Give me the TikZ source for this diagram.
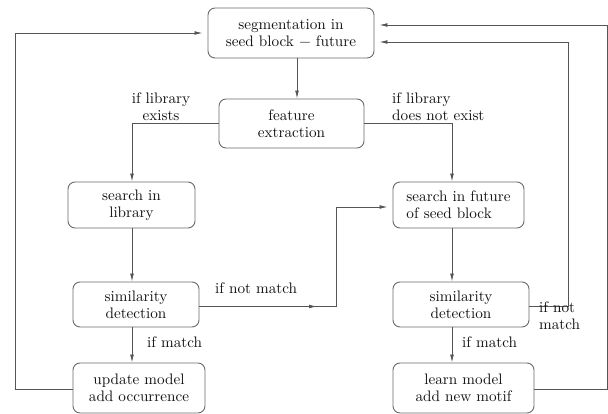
\documentclass[tikz,border=0pt]{standalone}
\usepackage{fontspec}
\newfontfamily\diagfamily{lmroman10-regular}[Extension=.otf]
\usetikzlibrary{arrows.meta,calc}
\newcommand{\diagfont}{\diagfamily\fontsize{15.2}{17}\selectfont}
\definecolor{boxgray}{HTML}{6A6A6A}
\definecolor{linegray}{HTML}{555555}
\definecolor{textcol}{HTML}{111111}
\begin{document}
\begin{tikzpicture}[x=1pt,y=-1pt,
  box/.style={draw=boxgray, line width=0.9pt, rounded corners=7pt, align=center,
    inner sep=0pt, font=\diagfont, text=textcol},
  conn/.style={draw=linegray, line width=0.8pt},
  arr/.style={conn, -{Latex[length=8pt,width=3.8pt]}},
  gap/.style={shorten >=5pt},
  lbl/.style={font=\diagfont, inner sep=0pt, text=textcol}]
\useasboundingbox (0,0) rectangle (608,414);

% boxes
\node[box, minimum width=166pt, minimum height=50pt] (top) at (291,33) {segmentation in\\seed block − future};
\node[box, minimum width=145pt, minimum height=49pt] (fe) at (291.5,123.5) {feature\\extraction};
\node[box, minimum width=127pt, minimum height=46pt] (sl) at (131.5,205) {search in\\library};
\node[box, minimum width=131pt, minimum height=46pt, align=left] (sf) at (458.5,205) {search in future\\of seed block};
\node[box, minimum width=126pt, minimum height=45pt] (s1) at (136,304.5) {similarity\\detection};
\node[box, minimum width=136pt, minimum height=45pt] (s2) at (461,304.5) {similarity\\detection};
\node[box, minimum width=132pt, minimum height=50pt] (up) at (139,388) {update model\\add occurrence};
\node[box, minimum width=141pt, minimum height=50pt] (ln) at (463.5,388) {learn model\\add new motif};

% helper coordinates
\coordinate (xA) at (297,0);
\coordinate (xL) at (132,0);
\coordinate (xR) at (452,0);
\coordinate (xM) at (336,0);
\coordinate (xLL) at (15,0);
\coordinate (xR1) at (568,0);
\coordinate (xR2) at (607,0);
\coordinate (m1) at (317,0);
\coordinate (yS) at (0,306.5);
\coordinate (yF) at (0,207);
\coordinate (yU) at (0,389);
\coordinate (yL) at (0,33);
\coordinate (yB) at (0,42);
\coordinate (yT) at (0,25);

% connectors
\draw[arr] (xA |- top.south) -- (xA |- fe.north);
\draw[arr] (fe.west) -| (xL |- sl.north);
\draw[arr] (fe.east) -| (xR |- sf.north);
\draw[arr] (xL |- sl.south) -- (xL |- s1.north);
\draw[arr, gap] (s1.east |- yS) -| (xM |- yF) -- (sf.west |- yF);
\draw[arr] (s1.east |- yS) -- (m1 |- yS);
\draw[arr] (xL |- s1.south) -- (xL |- up.north);
\draw[arr, gap] (up.west |- yU) -| (xLL |- yL) -- (top.west |- yL);
\draw[arr] (xR |- sf.south) -- (xR |- s2.north);
\draw[arr, gap] (s2.east |- yS) -| (xR1 |- yB) -- (top.east |- yB);
\draw[arr] (xR |- s2.south) -- (xR |- ln.north);
\draw[arr, gap] (ln.east |- yU) -| (xR2 |- yT) -- (top.east |- yT);

% labels
\node[lbl, align=center] (l1) at (161,106.7) {if library\\exists};
\node[lbl, align=left, anchor=west] (l2) at (392,106.7) {if library\\does not exist};
\node[lbl, anchor=base west] (l3) at (215,294) {if not match};
\node[lbl, anchor=base west] (l4) at (147,347) {if match};
\node[lbl, anchor=base west] (l5) at (462,347) {if match};
\node[lbl, align=left, anchor=west] (l6) at (539,315.7) {if not\\match};
\end{tikzpicture}
\end{document}
